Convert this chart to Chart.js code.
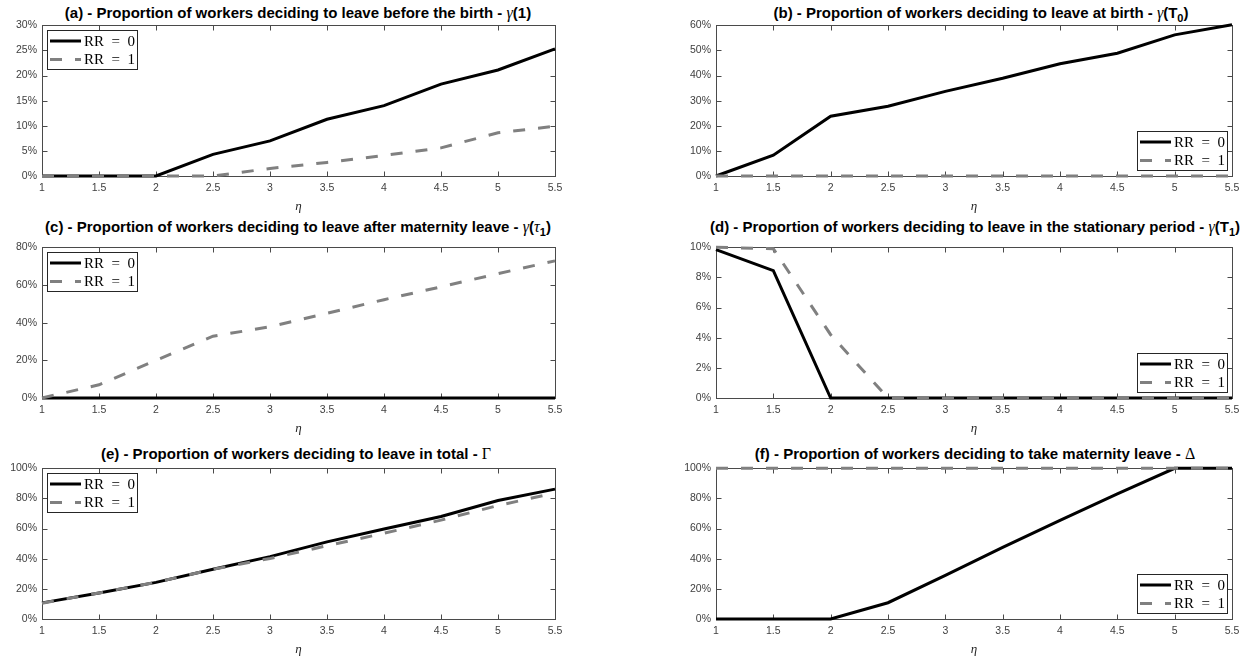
<!DOCTYPE html>
<html>
<head>
<meta charset="utf-8">
<script src="https://cdn.jsdelivr.net/npm/chart.js@4.4.1/dist/chart.umd.min.js"></script>
<style>
  body { margin: 0; background: #fff; }
  #fig { position: relative; width: 1249px; height: 660px; overflow: hidden; background: #fff; }
  canvas { position: absolute; }
  .ttl {
    position: absolute; white-space: nowrap; line-height: 1;
    font: bold 15px "Liberation Sans", Arial, sans-serif; color: #000;
    transform: translate(-50%, -50%);
  }
  .ttl .g { font-family: "Liberation Serif", serif; font-weight: normal; font-style: italic; font-size: 16px; }
  .ttl .s { font-family: "Liberation Serif", serif; font-weight: normal; font-size: 16px; }
  .ttl sub { font-size: 11px; line-height: 0; vertical-align: -4px; }
</style>
</head>
<body>
<div id="fig">
  <div class="ttl" style="left:298px; top:13px">(a) - Proportion of workers deciding to leave before the birth - <span class="g">γ</span>(1)</div>
  <div class="ttl" style="left:981px; top:13px">(b) - Proportion of workers deciding to leave at birth - <span class="g">γ</span>(T<sub>0</sub>)</div>
  <div class="ttl" style="left:298px; top:227px">(c) - Proportion of workers deciding to leave after maternity leave - <span class="g">γ</span>(<span class="g">τ</span><sub>1</sub>)</div>
  <div class="ttl" style="left:975px; top:227px">(d) - Proportion of workers deciding to leave in the stationary period - <span class="g">γ</span>(T<sub>1</sub>)</div>
  <div class="ttl" style="left:296px; top:454px">(e) - Proportion of workers deciding to leave in total - <span class="s">Γ</span></div>
  <div class="ttl" style="left:975px; top:454px">(f) - Proportion of workers deciding to take maternity leave - <span class="s">Δ</span></div>
</div>
<script>
// eta values on the x axis
const etaValues = [1, 1.5, 2, 2.5, 3, 3.5, 4, 4.5, 5, 5.5];
const seriesLabels = ["RR = 0", "RR = 1"];

// (a) leave before the birth, in %
const beforeBirthRR0 = [0, 0, 0, 4.3, 7.0, 11.3, 14.0, 18.3, 21.1, 25.3];
const beforeBirthRR1 = [0, 0, 0, 0, 1.5, 2.7, 4.1, 5.6, 8.6, 9.9];
// (b) leave at birth
const atBirthRR0 = [0, 8.3, 23.8, 27.8, 33.7, 38.9, 44.7, 48.9, 56.2, 60.2];
const atBirthRR1 = [0, 0, 0, 0, 0, 0, 0, 0, 0, 0];
// (c) leave after maternity leave
const afterLeaveRR0 = [0, 0, 0, 0, 0, 0, 0, 0, 0, 0];
const afterLeaveRR1 = [0, 7.0, 20.0, 32.8, 37.8, 45.0, 52.2, 59.0, 66.0, 72.8];
// (d) leave in the stationary period
const stationaryRR0 = [9.85, 8.45, 0, 0, 0, 0, 0, 0, 0, 0];
const stationaryRR1 = [10, 9.9, 4.2, 0, 0, 0, 0, 0, 0, 0];
// (e) leave in total
const totalRR0 = [10.7, 17.3, 24.3, 33.0, 41.4, 51.2, 59.7, 68.0, 78.6, 86.2];
const totalRR1 = [10.5, 17.3, 24.3, 33.0, 40.2, 48.6, 56.9, 65.6, 75.3, 83.6];
// (f) take maternity leave
const maternityRR0 = [0, 0, 0, 10.8, 29.0, 47.5, 65.5, 83.0, 100, 100];
const maternityRR1 = [100, 100, 100, 100, 100, 100, 100, 100, 100, 100];

const AXIS_COLOR = "#4a4a4a";
const TICK_COLOR = "#404040";

const toPoints = (ys) => ys.map((y, i) => ({ x: etaValues[i], y: y }));

// MATLAB-like box with inward ticks, plus a framed legend inside the axes
const axesBoxPlugin = {
  id: "axesBox",
  beforeDatasetsDraw(chart) {
    const { ctx, chartArea: a, scales } = chart;
    const L = Math.round(a.left) + 0.5, R = Math.round(a.right) + 0.5;
    const T = Math.round(a.top) + 0.5, B = Math.round(a.bottom) + 0.5;
    ctx.save();
    ctx.strokeStyle = AXIS_COLOR;
    ctx.lineWidth = 1;
    ctx.strokeRect(L, T, R - L, B - T);
    ctx.beginPath();
    scales.x.ticks.forEach((t) => {
      const px = Math.round(scales.x.getPixelForValue(t.value)) + 0.5;
      ctx.moveTo(px, B); ctx.lineTo(px, B - 5);
      ctx.moveTo(px, T); ctx.lineTo(px, T + 5);
    });
    scales.y.ticks.forEach((t) => {
      const py = Math.round(scales.y.getPixelForValue(t.value)) + 0.5;
      ctx.moveTo(L, py); ctx.lineTo(L + 5, py);
      ctx.moveTo(R, py); ctx.lineTo(R - 5, py);
    });
    ctx.stroke();
    ctx.restore();
  },
  afterDraw(chart, args, opts) {
    const { ctx, chartArea: a } = chart;
    const w = 91, h = 40;
    const x = Math.round(opts.corner === "nw" ? a.left + 5 : a.right - 4 - w);
    const y = Math.round(opts.corner === "nw" ? a.top + 5 : a.bottom - 5 - h);
    ctx.save();
    ctx.fillStyle = "#fff";
    ctx.fillRect(x, y, w, h);
    ctx.strokeStyle = "#262626";
    ctx.lineWidth = 1;
    ctx.strokeRect(x + 0.5, y + 0.5, w - 1, h - 1);
    chart.data.datasets.forEach((ds, i) => {
      const ly = y + 11 + i * 18.5;
      ctx.beginPath();
      ctx.setLineDash(ds.borderDash || []);
      ctx.strokeStyle = ds.borderColor;
      ctx.lineWidth = ds.borderWidth;
      ctx.moveTo(x + 3, ly);
      ctx.lineTo(x + 34, ly);
      ctx.stroke();
      ctx.setLineDash([]);
      ctx.fillStyle = "#000";
      ctx.font = '15px "Liberation Serif", serif';
      ctx.textBaseline = "middle";
      ctx.fillText(ds.label.replace(/ /g, "\u2002"), x + 37, ly + 1);
    });
    ctx.restore();
  },
};

const panels = [
  { rr0: beforeBirthRR0, rr1: beforeBirthRR1, yMax: 30, step: 5, corner: "nw", left: 0, top: 14, width: 572 },
  { rr0: atBirthRR0, rr1: atBirthRR1, yMax: 60, step: 10, corner: "se", left: 674, top: 14, width: 575 },
  { rr0: afterLeaveRR0, rr1: afterLeaveRR1, yMax: 80, step: 20, corner: "nw", left: 0, top: 236, width: 572 },
  { rr0: stationaryRR0, rr1: stationaryRR1, yMax: 10, step: 2, corner: "se", left: 674, top: 236, width: 575 },
  { rr0: totalRR0, rr1: totalRR1, yMax: 100, step: 20, corner: "nw", left: 0, top: 457, width: 572 },
  { rr0: maternityRR0, rr1: maternityRR1, yMax: 100, step: 20, corner: "se", left: 674, top: 457, width: 575 },
];

const fig = document.getElementById("fig");
const tickFont = { family: '"Liberation Sans", Arial, sans-serif', size: 10.5 };

panels.forEach((p) => {
  const canvas = document.createElement("canvas");
  canvas.width = p.width;
  canvas.height = 202;
  canvas.style.left = p.left + "px";
  canvas.style.top = p.top + "px";
  canvas.style.width = p.width + "px";
  canvas.style.height = "202px";
  fig.appendChild(canvas);

  new Chart(canvas, {
    type: "line",
    data: {
      datasets: [
        {
          label: seriesLabels[0],
          data: toPoints(p.rr0),
          borderColor: "#000000",
          borderWidth: 3,
          pointRadius: 0,
          clip: false,
          order: 1,
        },
        {
          label: seriesLabels[1],
          data: toPoints(p.rr1),
          borderColor: "#808080",
          borderWidth: 3,
          borderDash: [12, 13],
          pointRadius: 0,
          clip: false,
          order: 0,
        },
      ],
    },
    options: {
      responsive: false,
      animation: false,
      layout: { padding: { top: 10, right: p.width - (p.left === 0 ? 555 : 1232 - p.left), bottom: 0, left: 0 } },
      plugins: {
        legend: { display: false },
        tooltip: { enabled: false },
        axesBox: { corner: p.corner },
      },
      scales: {
        x: {
          type: "linear",
          min: 1,
          max: 5.5,
          ticks: { stepSize: 0.5, padding: 6, color: TICK_COLOR, font: tickFont, maxRotation: 0, autoSkip: false, callback: (v) => String(v) },
          grid: { display: false, drawTicks: false },
          border: { display: false },
          title: {
            display: true,
            text: "η",
            color: "#262626",
            font: { family: '"Liberation Serif", serif', style: "italic", size: 13 },
            padding: { top: 0, bottom: 2 },
          },
          afterFit: (s) => { s.height = 40; },
        },
        y: {
          min: 0,
          max: p.yMax,
          ticks: { stepSize: p.step, padding: 5, color: TICK_COLOR, font: tickFont, callback: (v) => v + "%" },
          grid: { display: false, drawTicks: false },
          border: { display: false },
          afterFit: (s) => { s.width = 42; },
        },
      },
    },
    plugins: [axesBoxPlugin],
  });
});
</script>
</body>
</html>
